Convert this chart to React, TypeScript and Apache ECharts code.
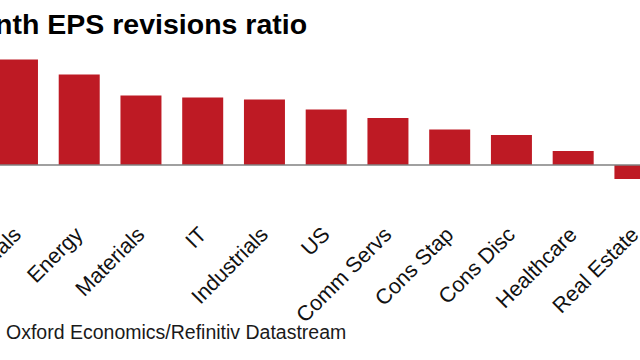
import React, { useEffect, useRef } from "react";
import * as echarts from "echarts";

const titleText = "3-month EPS revisions ratio";
const sourceText = "Oxford Economics/Refinitiv Datastream";
const categories = [
  "Financials",
  "Energy",
  "Materials",
  "IT",
  "Industrials",
  "US",
  "Comm Servs",
  "Cons Stap",
  "Cons Disc",
  "Healthcare",
  "Real Estate",
];
const values = [0.527, 0.452, 0.348, 0.337, 0.328, 0.278, 0.235, 0.177, 0.15, 0.07, -0.07];

export default function App() {
  const ref = useRef<HTMLDivElement>(null);
  useEffect(() => {
    if (!ref.current) return;
    const chart = echarts.init(ref.current, null, { renderer: "svg" });
    chart.setOption({
      animation: false,
      backgroundColor: "#ffffff",
      title: [
        {
          text: titleText,
          left: 2,
          top: 4,
          textStyle: {
            fontFamily: "Liberation Sans",
            fontWeight: "bold",
            fontSize: 28.5,
            color: "#000000",
          },
        },
        {
          text: sourceText,
          left: 81,
          top: 317,
          textStyle: {
            fontFamily: "Liberation Sans",
            fontWeight: "normal",
            fontSize: 19.5,
            color: "#1a1a1a",
          },
        },
      ],
      grid: { left: 66.6, right: 14.2, top: 45, bottom: 155 },
      xAxis: {
        type: "category",
        data: categories,
        axisLine: { show: false },
        axisTick: { show: false },
        axisLabel: {
          rotate: 45,
          margin: 26,
          interval: 0,
          fontFamily: "Liberation Sans",
          fontSize: 21.5,
          color: "#111111",
        },
      },
      yAxis: {
        type: "value",
        min: -0.2,
        max: 0.6,
        show: false,
        splitLine: { show: false },
      },
      series: [
        {
          type: "bar",
          data: values,
          barWidth: 41,
          itemStyle: { color: "#be1a24" },
          markLine: {
            silent: true,
            symbol: "none",
            label: { show: false },
            lineStyle: { color: "#808080", width: 1.5, type: "solid" },
            data: [{ yAxis: 0 }],
          },
        },
      ],
    });
    return () => chart.dispose();
  }, []);
  return (
    <div
      style={{
        position: "fixed",
        left: 0,
        top: 0,
        width: 640,
        height: 360,
        overflow: "hidden",
        background: "#fff",
      }}
    >
      <div
        ref={ref}
        style={{ position: "absolute", left: -80, top: 0, width: 760, height: 360 }}
      />
    </div>
  );
}
